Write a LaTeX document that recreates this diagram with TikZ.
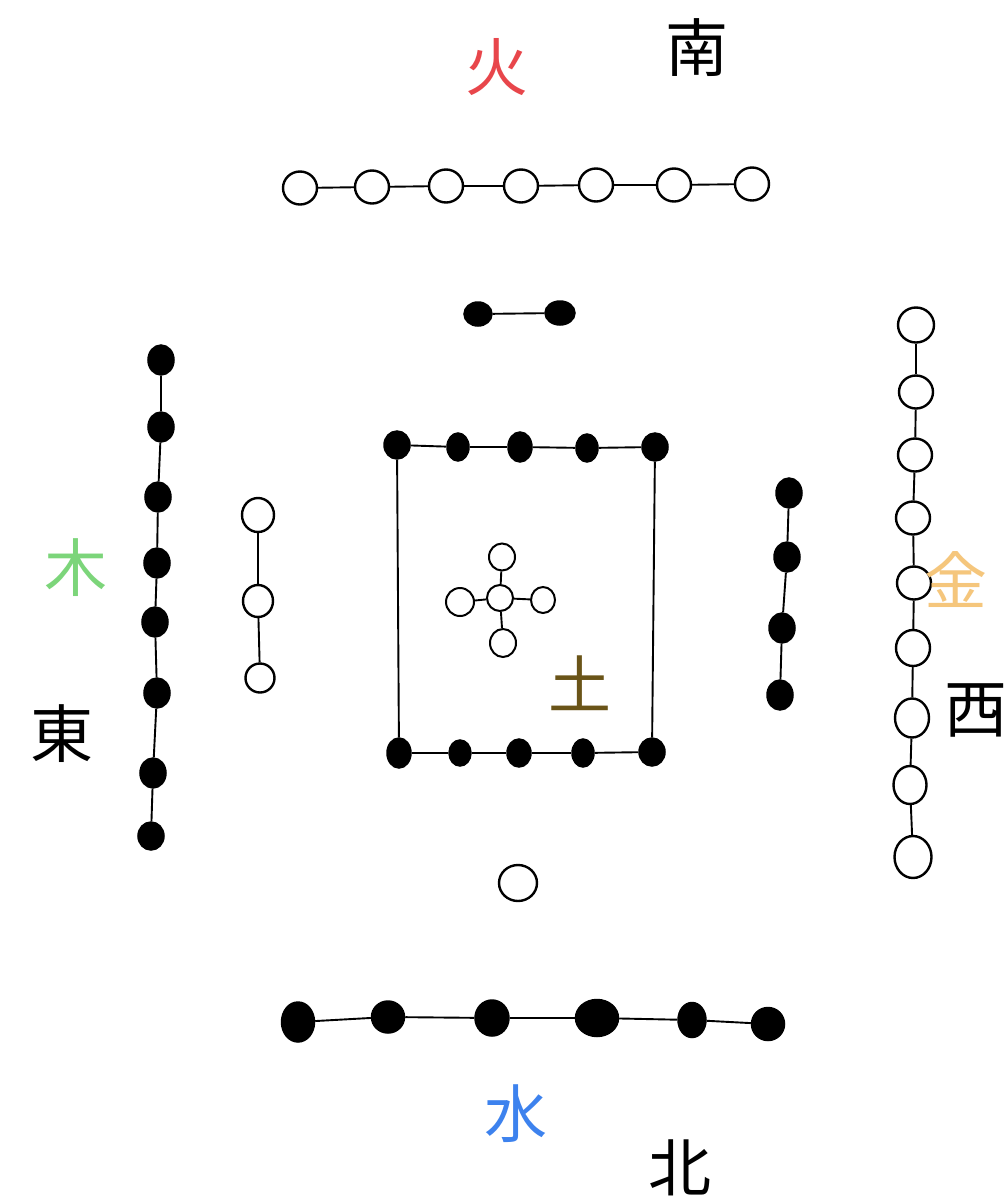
\documentclass[tikz,border=0pt]{standalone}
\usepackage{fontspec}
\newfontfamily\cjk{Noto Sans CJK JP}
\usetikzlibrary{shapes.geometric}
\definecolor{firered}{HTML}{E8464B}
\definecolor{woodgreen}{HTML}{7CD57A}
\definecolor{metalorange}{HTML}{F5C67C}
\definecolor{earthbrown}{HTML}{6A5418}
\definecolor{waterblue}{HTML}{3D82EE}
\tikzset{
  wc/.style={ellipse, draw=black, line width=2.4pt, fill=white, inner sep=0pt,
    minimum width=34pt, minimum height=33pt},
  bd/.style={ellipse, draw=black, line width=1.5pt, fill=black, inner sep=0pt,
    minimum width=26pt, minimum height=30pt},
  link/.style={draw=black, line width=1.9pt},
  glyph/.style={inner sep=0pt, font=\cjk\fontsize{63}{63}\selectfont},
}
\begin{document}
\begin{tikzpicture}[x=1pt,y=-1pt]
\useasboundingbox[fill=white] (0,0) rectangle (1007,1200);

% ---- South: fire, 7 white
\node[wc] (s1) at (300,188) {};
\node[wc] (s2) at (372,187) {};
\node[wc] (s3) at (446,186) {};
\node[wc] (s4) at (521,186) {};
\node[wc] (s5) at (596,185) {};
\node[wc] (s6) at (674,185) {};
\node[wc] (s7) at (752,184) {};
\foreach \a/\b in {s1/s2,s2/s3,s3/s4,s4/s5,s5/s6,s6/s7} \draw[link] (\a) -- (\b);

% ---- South inner: 2 black
\node[bd, minimum width=28pt, minimum height=24pt] (t1) at (478,314) {};
\node[bd, minimum width=30pt, minimum height=24pt] (t2) at (560,313) {};
\draw[link] (t1) -- (t2);

% ---- East outer: 8 black
\node[bd] (e1) at (161,360) {};
\node[bd] (e2) at (161,427) {};
\node[bd] (e3) at (158,497) {};
\node[bd] (e4) at (157,563) {};
\node[bd] (e5) at (155,622) {};
\node[bd] (e6) at (157,693) {};
\node[bd] (e7) at (153,773) {};
\node[bd, minimum height=28pt] (e8) at (151,836) {};
\foreach \a/\b in {e1/e2,e2/e3,e3/e4,e4/e5,e5/e6,e6/e7,e7/e8} \draw[link] (\a) -- (\b);

% ---- East inner: 3 white
\node[wc, minimum width=32pt, minimum height=34pt] (f1) at (258,515) {};
\node[wc, minimum width=30pt, minimum height=32pt] (f2) at (258,601) {};
\node[wc, minimum width=29pt, minimum height=29pt] (f3) at (260,678) {};
\draw[link] (f1) -- (f2);
\draw[link] (f2) -- (f3);

% ---- Centre square: 10 black
\node[bd, minimum width=26pt, minimum height=28pt] (q1) at (397,445) {};
\node[bd, minimum width=22pt, minimum height=28pt] (q2) at (458,447) {};
\node[bd, minimum width=24pt, minimum height=30pt] (q3) at (520,447) {};
\node[bd, minimum width=22pt, minimum height=28pt] (q4) at (587,448) {};
\node[bd, minimum width=26pt, minimum height=28pt] (q5) at (655,447) {};
\node[bd, minimum width=24pt, minimum height=30pt] (r1) at (399,753) {};
\node[bd, minimum width=22pt, minimum height=26pt] (r2) at (460,753) {};
\node[bd, minimum width=24pt, minimum height=28pt] (r3) at (519,753) {};
\node[bd, minimum width=22pt, minimum height=28pt] (r4) at (583,753) {};
\node[bd, minimum width=26pt, minimum height=28pt] (r5) at (652,752) {};
\foreach \a/\b in {q1/q2,q2/q3,q3/q4,q4/q5,r1/r2,r2/r3,r3/r4,r4/r5,q1/r1,q5/r5} \draw[link] (\a) -- (\b);

% ---- Centre: 5 white
\node[wc, line width=2pt, minimum width=26pt, minimum height=26pt] (c0) at (500,598) {};
\node[wc, line width=2pt, minimum width=26pt, minimum height=27pt] (cn) at (502,557) {};
\node[wc, line width=2pt, minimum width=28pt, minimum height=28pt] (cw) at (460,602) {};
\node[wc, line width=2pt, minimum width=24pt, minimum height=26pt] (ce) at (543,600) {};
\node[wc, line width=2pt, minimum width=26pt, minimum height=28pt] (cs) at (503,643) {};
\foreach \a in {cn,cw,ce,cs} \draw[link] (c0) -- (\a);

% ---- West inner: 4 black
\node[bd] (g1) at (789,493) {};
\node[bd] (g2) at (787,557) {};
\node[bd] (g3) at (782,628) {};
\node[bd] (g4) at (780,695) {};
\foreach \a/\b in {g1/g2,g2/g3,g3/g4} \draw[link] (\a) -- (\b);

% ---- West outer: 9 white
\node[wc, minimum width=36pt, minimum height=35pt] (w1) at (916,325) {};
\node[wc] (w2) at (916,392) {};
\node[wc] (w3) at (915,455) {};
\node[wc] (w4) at (913,518) {};
\node[wc] (w5) at (914,583) {};
\node[wc, minimum height=36pt] (w6) at (913,648) {};
\node[wc, minimum width=34pt, minimum height=39pt] (w7) at (912,718) {};
\node[wc, minimum width=33pt, minimum height=38pt] (w8) at (910,785) {};
\node[wc, minimum width=37pt, minimum height=42pt] (w9) at (913,857) {};
\foreach \a/\b in {w1/w2,w2/w3,w3/w4,w4/w5,w5/w6,w6/w7,w7/w8,w8/w9} \draw[link] (\a) -- (\b);

% ---- North inner: 1 white
\node[wc, minimum width=38pt, minimum height=36pt] (n0) at (518,883) {};

% ---- North outer: 6 black
\node[bd, minimum width=33pt, minimum height=40pt] (n1) at (298,1022) {};
\node[bd, minimum width=33pt, minimum height=32pt] (n2) at (388,1017) {};
\node[bd, minimum width=34pt, minimum height=36pt] (n3) at (492,1018) {};
\node[bd, minimum width=43pt, minimum height=37pt] (n4) at (597,1018) {};
\node[bd, minimum width=28pt, minimum height=35pt] (n5) at (692,1020) {};
\node[bd, minimum width=33pt, minimum height=33pt] (n6) at (768,1024) {};
\foreach \a/\b in {n1/n2,n2/n3,n3/n4,n4/n5,n5/n6} \draw[link] (\a) -- (\b);

% ---- Labels
\node[glyph, text=firered] (lfire) at (497,67) {火};
\node[glyph] (lsouth) at (697,48) {南};
\node[glyph, text=woodgreen] (lwood) at (76,568) {木};
\node[glyph] (least) at (62,734) {東};
\node[glyph, text=earthbrown] (learth) at (580,683) {土};
\node[glyph, text=metalorange] (lmetal) at (956,580) {金};
\node[glyph] (lwest) at (976,710) {西};
\node[glyph, text=waterblue] (lwater) at (516,1114) {水};
\node[glyph] (lnorth) at (680,1168) {北};
\end{tikzpicture}
\end{document}
